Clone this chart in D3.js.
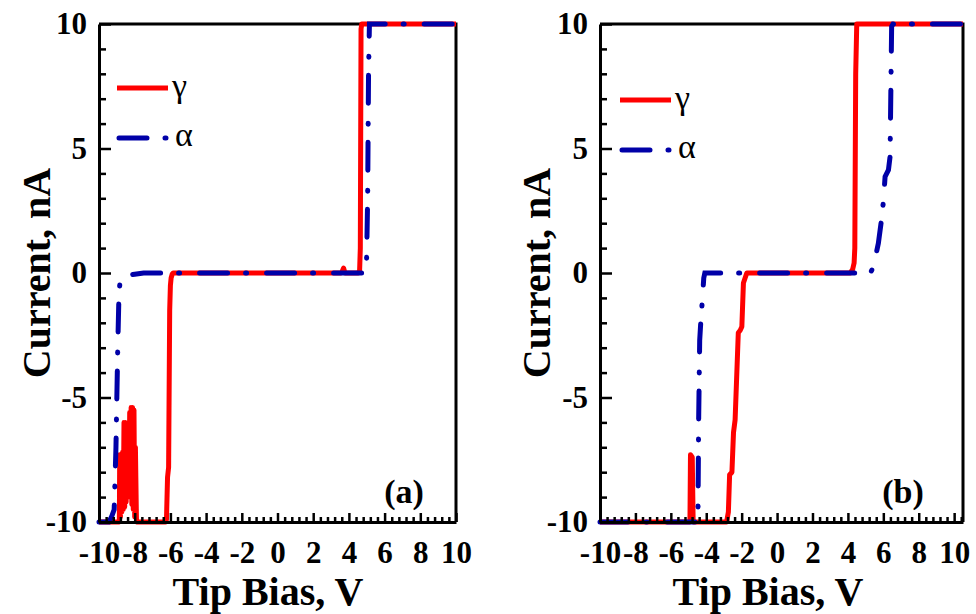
<!DOCTYPE html>
<html>
<head>
<meta charset="utf-8">
<script src="https://cdnjs.cloudflare.com/ajax/libs/d3/7.8.5/d3.min.js"></script>
<style>
body { margin: 0; background: #fff; }
svg text { font-family: "Liberation Serif", "Times New Roman", serif; }
</style>
</head>
<body>
<div id="chart"></div>
<script>
// panel (a), gamma phase
const biasA_gamma = [-10, -8.86, -8.84, -8.80, -8.76, -8.72, -8.68, -8.64, -8.60, -8.56, -8.52, -8.48, -8.44, -8.40, -8.36, -8.32, -8.28, -8.24, -8.20, -8.16, -8.12, -8.08, -8.04, -8.00, -7.96, -7.90,
  -6.28, -6.22, -6.16, -6.10, -6.04, -6.00, -5.96, -5.90, -5.84, -5.78, 3.55, 3.62, 3.70, 3.78, 4.52, 4.60, 4.64, 4.68, 4.72, 10];
const currA_gamma = [-10, -10, -7.3, -9.8, -7.3, -9.6, -7.2, -9.5, -6.0, -9.4, -6.0, -9.2, -6.1, -9.0, -7.2, -8.8, -5.6, -9.0, -5.4, -9.3, -5.4, -9.5, -5.5, -9.8, -7.0, -10,
  -10, -9.9, -8.2, -7.8, -1.5, -0.5, -0.2, -0.05, 0, 0, 0, 0.05, 0.2, 0, 0, 0.1, 1.0, 9.8, 10, 10];
// panel (a), alpha phase
const biasA_alpha = [-10, -9.45, -9.3, -9.15, -9.05, -8.95, -8.88, -8.8, -8.5, -8.0, -7.5, 4.82, 4.98, 5.05, 5.1, 5.15, 10];
const currA_alpha = [-10, -10, -9.8, -9.5, -7, -3, -0.8, -0.2, -0.1, -0.05, 0, 0, 0.1, 3, 8, 10, 10];
// panel (b), gamma phase
const biasB_gamma = [-10, -4.92, -4.89, -4.79, -4.74, -2.85, -2.75, -2.68, -2.55, -2.46, -2.37, -2.19, -2.08, -1.99, -1.90, -1.71, 4.13, 4.27, 4.35, 4.39, 4.44, 4.50, 10.5];
const currB_gamma = [-10, -10, -7.3, -7.4, -10, -10, -9.6, -8.1, -8.0, -6.4, -5.9, -2.4, -2.3, -2.16, -0.4, 0, 0, 0.15, 0.4, 1.0, 8, 10, 10];
// panel (b), alpha phase
const biasB_alpha = [-10, -4.47, -4.43, -4.37, -4.32, -4.26, -4.14, -4.08, -3.83, 5.27, 5.44, 5.72, 5.92, 6.01, 6.10, 6.29, 6.38, 6.47, 6.55, 6.66, 10.5];
const currB_alpha = [-10, -10, -6.0, -2.7, -2.1, -1.5, -0.2, 0, 0, 0, 0.25, 1.19, 2.26, 2.93, 3.87, 4.14, 4.67, 9.9, 10, 10, 10];

const xTickLabels = [-10, -8, -6, -4, -2, 0, 2, 4, 6, 8, 10];
const yTickLabels = [-10, -5, 0, 5, 10];
const seriesNames = ["γ", "α"];
const panelLabels = ["(a)", "(b)"];

const width = 976, height = 614;
const svg = d3.select("#chart").append("svg")
  .attr("width", width)
  .attr("height", height);

const red = "#ff0000", blue = "#0000a8";
const dash = "28,18,1,20";

const panels = [
  { left: 99, right: 456, xMax: 10, top: 24, bottom: 522, titleX: 268, labelX: 50,
    gamma: d3.zip(biasA_gamma, currA_gamma), alpha: d3.zip(biasA_alpha, currA_alpha),
    legX: 117, legY: 88, tagX: 404, name: panelLabels[0] },
  { left: 600, right: 963, xMax: 10.5, top: 24, bottom: 522, titleX: 768, labelX: 550,
    gamma: d3.zip(biasB_gamma, currB_gamma), alpha: d3.zip(biasB_alpha, currB_alpha),
    legX: 620, legY: 100, tagX: 903, name: panelLabels[1] }
];

panels.forEach(function(p) {
  const x = d3.scaleLinear().domain([-10, p.xMax]).range([p.left, p.right]);
  const y = d3.scaleLinear().domain([-10, 10]).range([p.bottom, p.top]);
  const g = svg.append("g");

  // top and right frame
  g.append("path")
    .attr("d", `M${p.left},${p.top}H${p.right}V${p.bottom}`)
    .attr("fill", "none").attr("stroke", "#000").attr("stroke-width", 3);

  const line = d3.line().x(d => x(d[0])).y(d => y(d[1]));
  g.append("path").datum(p.gamma)
    .attr("d", line)
    .attr("fill", "none").attr("stroke", red).attr("stroke-width", 5)
    .attr("stroke-linejoin", "round");
  g.append("path").datum(p.alpha)
    .attr("d", line)
    .attr("fill", "none").attr("stroke", blue).attr("stroke-width", 5)
    .attr("stroke-linecap", "round").attr("stroke-dasharray", dash);

  // minor ticks
  const xMinor = d3.range(-10, p.xMax + 0.01, 0.4).filter(v => Math.abs(v / 2 - Math.round(v / 2)) > 0.01);
  const yMinor = d3.range(-10, 10.01, 1).filter(v => v % 5 != 0);
  g.append("g").attr("transform", `translate(0,${p.bottom})`)
    .call(d3.axisBottom(x).tickValues(xMinor).tickSize(-5).tickFormat(""))
    .call(s => s.select(".domain").remove())
    .selectAll("line").attr("stroke-width", 2.5);
  g.append("g").attr("transform", `translate(${p.left},0)`)
    .call(d3.axisLeft(y).tickValues(yMinor).tickSize(-7).tickFormat(""))
    .call(s => s.select(".domain").remove())
    .selectAll("line").attr("stroke-width", 2.5);

  // major axes (plain hyphen minus like the original)
  const xAxis = g.append("g").attr("transform", `translate(0,${p.bottom})`)
    .call(d3.axisBottom(x).tickValues(xTickLabels).tickFormat(d => String(d))
      .tickSizeInner(-9).tickSizeOuter(0).tickPadding(19));
  const yAxis = g.append("g").attr("transform", `translate(${p.left},0)`)
    .call(d3.axisLeft(y).tickValues(yTickLabels).tickFormat(d => String(d))
      .tickSizeInner(-12).tickSizeOuter(0).tickPadding(12));
  [xAxis, yAxis].forEach(function(a) {
    a.select(".domain").attr("stroke-width", 3);
    a.selectAll(".tick line").attr("stroke-width", 2.5);
    a.selectAll("text")
      .style("font-family", '"Liberation Serif", "Times New Roman", serif')
      .attr("font-size", 31).attr("font-weight", "bold").attr("fill", "#000");
  });

  // axis titles
  g.append("text")
    .attr("x", p.titleX).attr("y", 605)
    .attr("text-anchor", "middle")
    .attr("font-size", 40).attr("font-weight", "bold")
    .text("Tip Bias, V");
  g.append("text")
    .attr("transform", `translate(${p.labelX},${(p.top + p.bottom) / 2}) rotate(-90)`)
    .attr("text-anchor", "middle")
    .attr("font-size", 40).attr("font-weight", "bold")
    .text("Current, nA");

  // legend
  g.append("line")
    .attr("x1", p.legX).attr("x2", p.legX + 51)
    .attr("y1", p.legY).attr("y2", p.legY)
    .attr("stroke", red).attr("stroke-width", 5);
  g.append("text")
    .attr("x", p.legX + 55).attr("y", p.legY + 9)
    .attr("font-size", 34)
    .text(seriesNames[0]);
  g.append("line")
    .attr("x1", p.legX + 2).attr("x2", p.legX + 51)
    .attr("y1", p.legY + 50).attr("y2", p.legY + 50)
    .attr("stroke", blue).attr("stroke-width", 5)
    .attr("stroke-linecap", "round").attr("stroke-dasharray", dash);
  g.append("text")
    .attr("x", p.legX + 58).attr("y", p.legY + 58)
    .attr("font-size", 34)
    .text(seriesNames[1]);

  // panel tag
  g.append("text")
    .attr("x", p.tagX).attr("y", 503)
    .attr("text-anchor", "middle")
    .attr("font-size", 34).attr("font-weight", "bold")
    .text(p.name);
});
</script>
</body>
</html>
